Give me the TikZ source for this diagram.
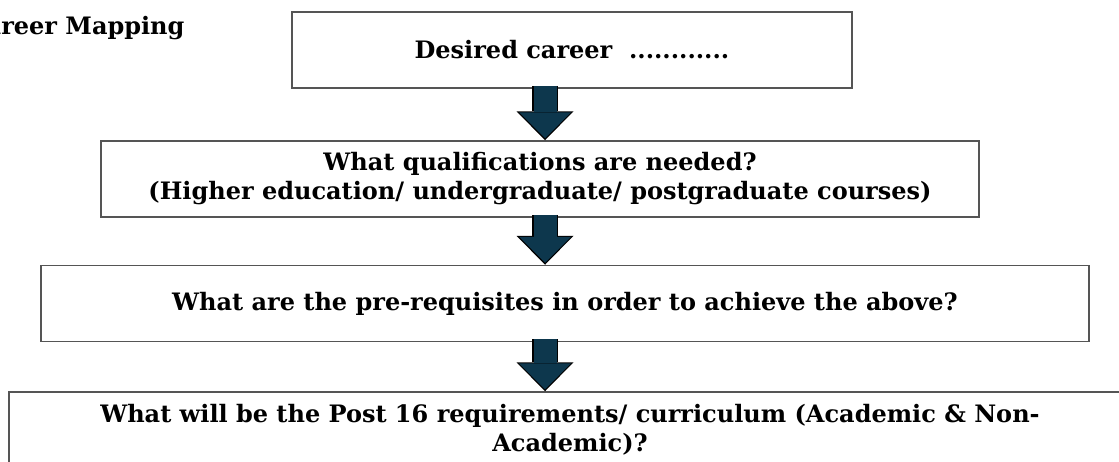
\documentclass[tikz,border=0pt]{standalone}
\usepackage{fontspec}
\setmainfont{DejaVu Serif}
\usetikzlibrary{calc, arrows.meta}
\definecolor{arrowblue}{RGB}{13,55,77}
\definecolor{boxline}{RGB}{85,85,85}

\begin{document}
\begin{tikzpicture}[
    x=1pt, y=-1pt,
    font=\fontsize{24}{29}\selectfont\bfseries,
    box/.style={draw=boxline, line width=1.5pt, align=center, inner sep=0pt, minimum height=76pt},
    bigarrow/.style={line width=23pt, draw=arrowblue, shorten >=2pt, shorten <=-3pt,
        -{Triangle[width=52pt, length=26pt, line width=0pt]},
        preaction={draw=black, line width=26pt, shorten >=0pt, shorten <=-3pt,
            -{Triangle[width=57pt, length=29pt, line width=0pt]}}},
  ]
  \useasboundingbox (0,0) rectangle (1119,461);
  \node[anchor=base east] (title) at (188,34) {Career Mapping};

  \node[box, minimum width=560pt] (b1) at (572,50) {Desired career\ \ ............};
  \node[box, minimum width=878pt] (b2) at (540,179)
  {What qualifications are needed?\\(Higher education/ undergraduate/ postgraduate courses)};
  \node[box, minimum width=1048pt] (b3) at (565,303.5)
  {What are the pre-requisites in order to achieve the above?};
  \node[box, minimum width=1122pt] (b4) at (570,430)
  {What will be the Post 16 requirements/ curriculum (Academic \& Non-\\Academic)?};

  \coordinate (ax) at (545,0);
  \foreach \a/\b in {b1/b2,b2/b3,b3/b4}{
      \draw[bigarrow] (ax |- \a.south) -- (ax |- \b.north);
    }
\end{tikzpicture}
\end{document}
